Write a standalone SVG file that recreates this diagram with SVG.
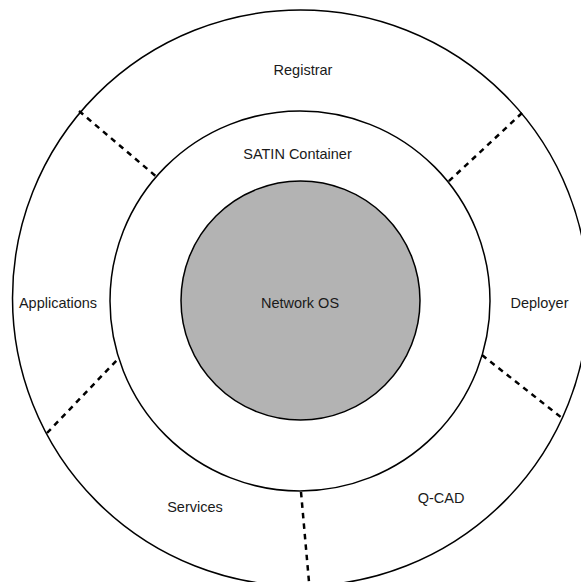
<svg xmlns="http://www.w3.org/2000/svg" width="581" height="582" viewBox="0 0 581 582">
<style>
.ring{fill:#ffffff;stroke:#000000;stroke-width:1.5}
.core{fill:#b3b3b3;stroke:#000000;stroke-width:1.5}
.lbl{font-family:"Liberation Sans",Arial,sans-serif;font-size:14.5px;fill:#1a1a1a;text-anchor:middle}
.sep{stroke:#000000;stroke-width:2.5;stroke-dasharray:5.5 5;fill:none}
</style>
<rect x="0" y="0" width="581" height="582" fill="#ffffff"/>
<g id="outer-ring">
<circle class="ring" cx="300.5" cy="298" r="288"/>
</g>
<g id="satin-container">
<circle class="ring" cx="300" cy="301" r="190"/>
<text class="lbl" x="297.5" y="159">SATIN Container</text>
</g>
<g id="network-os">
<circle class="core" cx="300.5" cy="300.5" r="119.5"/>
<text class="lbl" x="300" y="308">Network OS</text>
</g>
<g id="registrar"><text class="lbl" x="303" y="75">Registrar</text></g>
<g id="applications"><text class="lbl" x="58" y="308">Applications</text></g>
<g id="deployer"><text class="lbl" x="539.5" y="308">Deployer</text></g>
<g id="services"><text class="lbl" x="195" y="512">Services</text></g>
<g id="q-cad"><text class="lbl" x="441" y="503">Q-CAD</text></g>
<g id="connectors">
<line class="sep" x1="79" y1="111" x2="158" y2="178"/>
<line class="sep" x1="522" y1="113" x2="448" y2="182"/>
<line class="sep" x1="47" y1="433" x2="117" y2="360"/>
<line class="sep" x1="482" y1="355" x2="562" y2="418"/>
<line class="sep" x1="301" y1="492" x2="309" y2="582"/>
</g>
</svg>
